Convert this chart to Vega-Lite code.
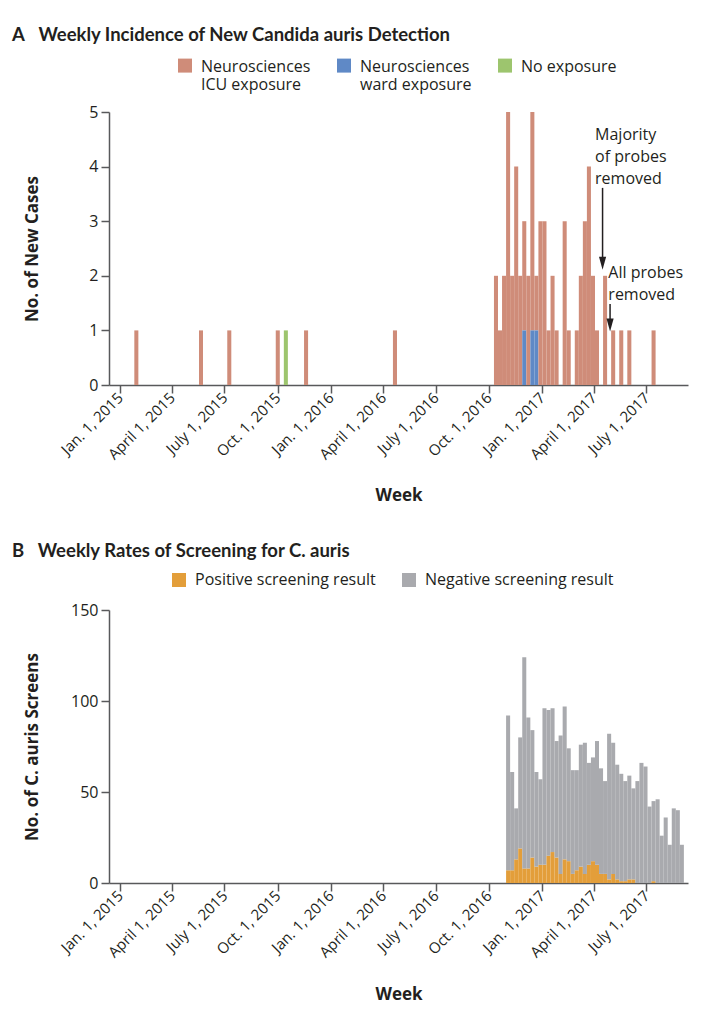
{
  "$schema": "https://vega.github.io/schema/vega-lite/v6.json",
  "background": "white",
  "padding": {"left": 12, "top": 25, "right": 4, "bottom": 4},
  "spacing": 38,
  "resolve": {"scale": {"color": "independent"}, "legend": {"color": "independent"}},
  "config": {
    "font": "Open Sans",
    "view": {"stroke": null},
    "bar": {"binSpacing": 0},
    "axis": {
      "labelFont": "Open Sans", "labelFontSize": 16, "labelColor": "#231f20",
      "titleFont": "Open Sans", "titleFontSize": 17, "titleFontWeight": "bold", "titleColor": "#231f20",
      "domainColor": "#58595b", "domainWidth": 1.5, "tickColor": "#58595b", "tickWidth": 1.5, "tickSize": 8, "grid": false
    },
    "legend": {
      "labelFont": "Open Sans", "labelFontSize": 16, "labelColor": "#231f20", "labelLimit": 400,
      "symbolType": "square", "symbolSize": 196, "symbolStrokeWidth": 0, "symbolOpacity": 1,
      "columnPadding": 25, "labelOffset": 8
    },
    "title": {"font": "Lato", "fontSize": 18.5, "fontWeight": "bold", "color": "#231f20", "anchor": "start", "frame": "group"}
  },
  "vconcat": [
    {
      "width": 579,
      "height": 273,
      "title": {"text": "A\u2002 Weekly Incidence of New Candida auris Detection", "dx": -97, "offset": 15},
      "layer": [
        {
          "data": {"values": [
            {"week": "2015/01/25", "exposure": "Neurosciences ICU exposure", "cases": 1},
            {"week": "2015/05/17", "exposure": "Neurosciences ICU exposure", "cases": 1},
            {"week": "2015/07/05", "exposure": "Neurosciences ICU exposure", "cases": 1},
            {"week": "2015/09/27", "exposure": "Neurosciences ICU exposure", "cases": 1},
            {"week": "2015/10/11", "exposure": "No exposure", "cases": 1},
            {"week": "2015/11/15", "exposure": "Neurosciences ICU exposure", "cases": 1},
            {"week": "2016/04/17", "exposure": "Neurosciences ICU exposure", "cases": 1},
            {"week": "2016/10/09", "exposure": "Neurosciences ICU exposure", "cases": 2},
            {"week": "2016/10/16", "exposure": "Neurosciences ICU exposure", "cases": 1},
            {"week": "2016/10/23", "exposure": "Neurosciences ICU exposure", "cases": 2},
            {"week": "2016/10/30", "exposure": "Neurosciences ICU exposure", "cases": 5},
            {"week": "2016/11/06", "exposure": "Neurosciences ICU exposure", "cases": 2},
            {"week": "2016/11/13", "exposure": "Neurosciences ICU exposure", "cases": 4},
            {"week": "2016/11/20", "exposure": "Neurosciences ICU exposure", "cases": 2},
            {"week": "2016/11/27", "exposure": "Neurosciences ICU exposure", "cases": 2},
            {"week": "2016/11/27", "exposure": "Neurosciences ward exposure", "cases": 1},
            {"week": "2016/12/04", "exposure": "Neurosciences ICU exposure", "cases": 2},
            {"week": "2016/12/11", "exposure": "Neurosciences ICU exposure", "cases": 4},
            {"week": "2016/12/11", "exposure": "Neurosciences ward exposure", "cases": 1},
            {"week": "2016/12/18", "exposure": "Neurosciences ICU exposure", "cases": 1},
            {"week": "2016/12/18", "exposure": "Neurosciences ward exposure", "cases": 1},
            {"week": "2016/12/25", "exposure": "Neurosciences ICU exposure", "cases": 3},
            {"week": "2017/01/01", "exposure": "Neurosciences ICU exposure", "cases": 3},
            {"week": "2017/01/08", "exposure": "Neurosciences ICU exposure", "cases": 1},
            {"week": "2017/01/15", "exposure": "Neurosciences ICU exposure", "cases": 2},
            {"week": "2017/01/22", "exposure": "Neurosciences ICU exposure", "cases": 1},
            {"week": "2017/02/05", "exposure": "Neurosciences ICU exposure", "cases": 3},
            {"week": "2017/02/12", "exposure": "Neurosciences ICU exposure", "cases": 1},
            {"week": "2017/02/26", "exposure": "Neurosciences ICU exposure", "cases": 1},
            {"week": "2017/03/05", "exposure": "Neurosciences ICU exposure", "cases": 2},
            {"week": "2017/03/12", "exposure": "Neurosciences ICU exposure", "cases": 3},
            {"week": "2017/03/19", "exposure": "Neurosciences ICU exposure", "cases": 4},
            {"week": "2017/03/26", "exposure": "Neurosciences ICU exposure", "cases": 2},
            {"week": "2017/04/02", "exposure": "Neurosciences ICU exposure", "cases": 1},
            {"week": "2017/04/16", "exposure": "Neurosciences ICU exposure", "cases": 2},
            {"week": "2017/04/30", "exposure": "Neurosciences ICU exposure", "cases": 1},
            {"week": "2017/05/14", "exposure": "Neurosciences ICU exposure", "cases": 1},
            {"week": "2017/05/28", "exposure": "Neurosciences ICU exposure", "cases": 1},
            {"week": "2017/07/09", "exposure": "Neurosciences ICU exposure", "cases": 1}
          ]},
          "mark": {"type": "bar", "binSpacing": 0},
          "encoding": {
            "x": {
              "field": "week", "type": "temporal", "timeUnit": "yearweek", "title": "Week",
              "scale": {"domain": [{"year": 2014, "month": 12, "date": 13}, {"year": 2017, "month": 9, "date": 11}]},
              "axis": {
                "values": [
                  {"year": 2015, "month": 1, "date": 1}, {"year": 2015, "month": 4, "date": 1}, {"year": 2015, "month": 7, "date": 1}, {"year": 2015, "month": 10, "date": 1},
                  {"year": 2016, "month": 1, "date": 1}, {"year": 2016, "month": 4, "date": 1}, {"year": 2016, "month": 7, "date": 1}, {"year": 2016, "month": 10, "date": 1},
                  {"year": 2017, "month": 1, "date": 1}, {"year": 2017, "month": 4, "date": 1}, {"year": 2017, "month": 7, "date": 1}
                ],
                "labelExpr": "(month(datum.value)==0?'Jan.':month(datum.value)==3?'April':month(datum.value)==6?'July':'Oct.') + ' 1, ' + year(datum.value)",
                "labelAngle": -45, "labelAlign": "right", "labelBaseline": "middle", "labelPadding": 2, "labelFontSize": 15,
                "labelOverlap": false, "labelBound": false, "labelFlush": false,
                "titleY": 110, "titleBaseline": "middle"
              }
            },
            "y": {
              "field": "cases", "type": "quantitative", "title": "No. of New Cases",
              "scale": {"domain": [0, 5]},
              "axis": {"values": [0, 1, 2, 3, 4, 5], "labelPadding": 3, "titleX": -77, "titleBaseline": "middle"}
            },
            "color": {
              "field": "exposure", "type": "nominal",
              "scale": {"domain": ["Neurosciences ICU exposure", "Neurosciences ward exposure", "No exposure"], "range": ["#cf8c79", "#5f89c6", "#9dc56e"]},
              "legend": {
                "title": null, "orient": "none", "direction": "horizontal", "legendX": 68, "legendY": -53,
                "symbolType": "M-1,-1.2H1V0.8H-1Z",
                "labelBaseline": "middle", "labelLineHeight": 21,
                "labelExpr": "datum.label == 'Neurosciences ICU exposure' ? ['Neurosciences', 'ICU exposure'] : datum.label == 'Neurosciences ward exposure' ? ['Neurosciences', 'ward exposure'] : ['No exposure', '']"
              }
            }
          }
        },
        {
          "data": {"values": [
            {"d": "2017/04/03", "v": 4.73, "note": "Majority\nof probes\nremoved"},
            {"d": "2017/04/26", "v": 2.2, "note": "All probes\nremoved"}
          ]},
          "mark": {"type": "text", "align": "left", "baseline": "top", "fontSize": 16, "lineHeight": 22, "lineBreak": "\n", "color": "#231f20", "font": "Open Sans"},
          "encoding": {
            "x": {"field": "d", "type": "temporal"},
            "y": {"field": "v", "type": "quantitative"},
            "text": {"field": "note"}
          }
        },
        {
          "data": {"values": [
            {"d": "2017/04/16", "v1": 3.61, "v2": 2.3},
            {"d": "2017/04/29", "v1": 1.485, "v2": 1.17}
          ]},
          "mark": {"type": "rule", "color": "#231f20", "strokeWidth": 1.5},
          "encoding": {
            "x": {"field": "d", "type": "temporal"},
            "y": {"field": "v1", "type": "quantitative"},
            "y2": {"field": "v2"}
          }
        },
        {
          "data": {"values": [
            {"d": "2017/04/16", "v": 2.23},
            {"d": "2017/04/29", "v": 1.1}
          ]},
          "mark": {"type": "point", "shape": "M-0.55,-1L0.55,-1L0,1Z", "size": 169, "filled": true, "color": "#231f20", "opacity": 1},
          "encoding": {
            "x": {"field": "d", "type": "temporal"},
            "y": {"field": "v", "type": "quantitative"}
          }
        }
      ]
    },
    {
      "width": 579,
      "height": 273,
      "title": {"text": "B\u2002 Weekly Rates of Screening for C. auris", "dx": -97, "offset": 12},
      "data": {"values": [
        {"week": "2016/10/30", "Positive screening result": 7, "Negative screening result": 85},
        {"week": "2016/11/06", "Positive screening result": 7, "Negative screening result": 54},
        {"week": "2016/11/13", "Positive screening result": 13, "Negative screening result": 28},
        {"week": "2016/11/20", "Positive screening result": 19, "Negative screening result": 61},
        {"week": "2016/11/27", "Positive screening result": 8, "Negative screening result": 116},
        {"week": "2016/12/04", "Positive screening result": 8, "Negative screening result": 83},
        {"week": "2016/12/11", "Positive screening result": 14, "Negative screening result": 70},
        {"week": "2016/12/18", "Positive screening result": 9, "Negative screening result": 52},
        {"week": "2016/12/25", "Positive screening result": 10, "Negative screening result": 47},
        {"week": "2017/01/01", "Positive screening result": 10, "Negative screening result": 86},
        {"week": "2017/01/08", "Positive screening result": 15, "Negative screening result": 80},
        {"week": "2017/01/15", "Positive screening result": 17, "Negative screening result": 79},
        {"week": "2017/01/22", "Positive screening result": 14, "Negative screening result": 64},
        {"week": "2017/01/29", "Positive screening result": 5, "Negative screening result": 76},
        {"week": "2017/02/05", "Positive screening result": 13, "Negative screening result": 84},
        {"week": "2017/02/12", "Positive screening result": 12, "Negative screening result": 62},
        {"week": "2017/02/19", "Positive screening result": 5, "Negative screening result": 57},
        {"week": "2017/02/26", "Positive screening result": 7, "Negative screening result": 55},
        {"week": "2017/03/05", "Positive screening result": 9, "Negative screening result": 67},
        {"week": "2017/03/12", "Positive screening result": 5, "Negative screening result": 72},
        {"week": "2017/03/19", "Positive screening result": 10, "Negative screening result": 56},
        {"week": "2017/03/26", "Positive screening result": 12, "Negative screening result": 57},
        {"week": "2017/04/02", "Positive screening result": 10, "Negative screening result": 68},
        {"week": "2017/04/09", "Positive screening result": 5, "Negative screening result": 58},
        {"week": "2017/04/16", "Positive screening result": 5, "Negative screening result": 51},
        {"week": "2017/04/23", "Positive screening result": 2, "Negative screening result": 80},
        {"week": "2017/04/30", "Positive screening result": 5, "Negative screening result": 72},
        {"week": "2017/05/07", "Positive screening result": 2, "Negative screening result": 63},
        {"week": "2017/05/14", "Positive screening result": 1, "Negative screening result": 59},
        {"week": "2017/05/21", "Positive screening result": 1, "Negative screening result": 55},
        {"week": "2017/05/28", "Positive screening result": 2, "Negative screening result": 57},
        {"week": "2017/06/04", "Positive screening result": 2, "Negative screening result": 50},
        {"week": "2017/06/11", "Positive screening result": 0, "Negative screening result": 56},
        {"week": "2017/06/18", "Positive screening result": 0, "Negative screening result": 66},
        {"week": "2017/06/25", "Positive screening result": 0, "Negative screening result": 64},
        {"week": "2017/07/02", "Positive screening result": 0, "Negative screening result": 42},
        {"week": "2017/07/09", "Positive screening result": 1, "Negative screening result": 44},
        {"week": "2017/07/16", "Positive screening result": 0, "Negative screening result": 46},
        {"week": "2017/07/23", "Positive screening result": 0, "Negative screening result": 26},
        {"week": "2017/07/30", "Positive screening result": 0, "Negative screening result": 36},
        {"week": "2017/08/06", "Positive screening result": 0, "Negative screening result": 21},
        {"week": "2017/08/13", "Positive screening result": 0, "Negative screening result": 41},
        {"week": "2017/08/20", "Positive screening result": 0, "Negative screening result": 40},
        {"week": "2017/08/27", "Positive screening result": 0, "Negative screening result": 21}
      ]},
      "transform": [{"fold": ["Positive screening result", "Negative screening result"], "as": ["result", "count"]}],
      "mark": {"type": "bar", "binSpacing": 0},
      "encoding": {
        "x": {
          "field": "week", "type": "temporal", "timeUnit": "yearweek", "title": "Week",
          "scale": {"domain": [{"year": 2014, "month": 12, "date": 13}, {"year": 2017, "month": 9, "date": 11}]},
          "axis": {
            "values": [
              {"year": 2015, "month": 1, "date": 1}, {"year": 2015, "month": 4, "date": 1}, {"year": 2015, "month": 7, "date": 1}, {"year": 2015, "month": 10, "date": 1},
              {"year": 2016, "month": 1, "date": 1}, {"year": 2016, "month": 4, "date": 1}, {"year": 2016, "month": 7, "date": 1}, {"year": 2016, "month": 10, "date": 1},
              {"year": 2017, "month": 1, "date": 1}, {"year": 2017, "month": 4, "date": 1}, {"year": 2017, "month": 7, "date": 1}
            ],
            "labelExpr": "(month(datum.value)==0?'Jan.':month(datum.value)==3?'April':month(datum.value)==6?'July':'Oct.') + ' 1, ' + year(datum.value)",
            "labelAngle": -45, "labelAlign": "right", "labelBaseline": "middle", "labelPadding": 2, "labelFontSize": 15,
            "labelOverlap": false, "labelBound": false, "labelFlush": false,
            "titleY": 111, "titleBaseline": "middle"
          }
        },
        "y": {
          "field": "count", "type": "quantitative", "title": "No. of C. auris Screens",
          "scale": {"domain": [0, 150]},
          "axis": {"values": [0, 50, 100, 150], "labelPadding": 3, "titleX": -77, "titleBaseline": "middle"}
        },
        "color": {
          "field": "result", "type": "nominal",
          "scale": {"domain": ["Positive screening result", "Negative screening result"], "range": ["#e39e3a", "#a9aaae"]},
          "legend": {"title": null, "orient": "none", "direction": "horizontal", "legendX": 62, "legendY": -38}
        },
        "order": {"field": "result", "sort": "descending"}
      }
    }
  ]
}
